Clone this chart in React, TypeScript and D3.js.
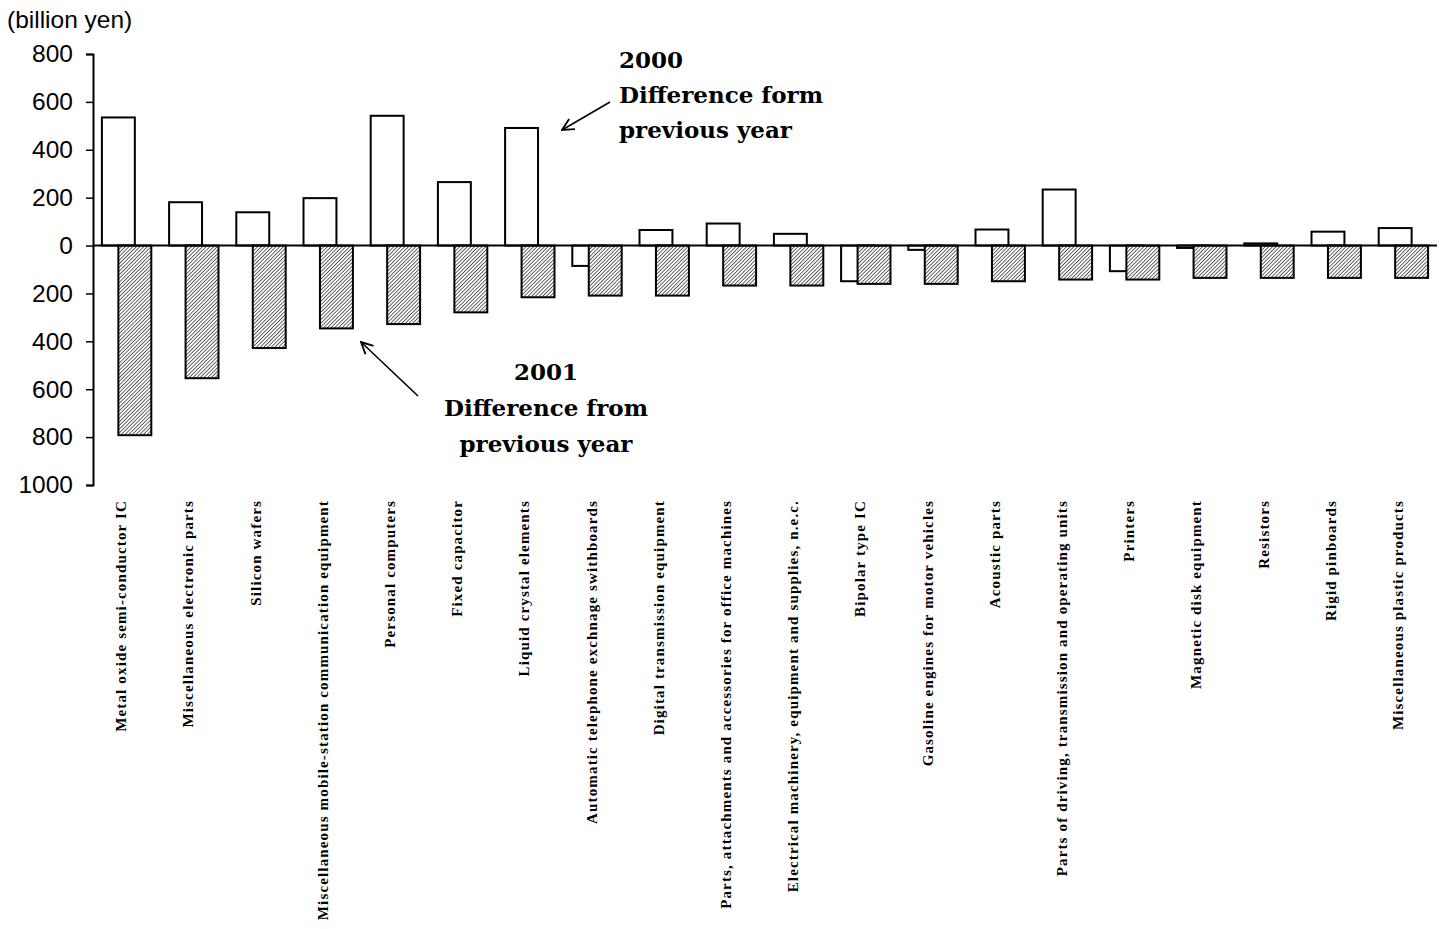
import React, { useEffect, useRef } from 'react';
import * as d3 from 'd3';

const categories = [
  'Metal oxide semi-conductor IC',
  'Miscellaneous electronic parts',
  'Silicon wafers',
  'Miscellaneous mobile-station communication equipment',
  'Personal computers',
  'Fixed capacitor',
  'Liquid crystal elements',
  'Automatic telephone exchnage swithboards',
  'Digital transmission equipment',
  'Parts, attachments and accessories for office machines',
  'Electrical machinery, equipment and supplies, n.e.c.',
  'Bipolar type IC',
  'Gasoline engines for motor vehicles',
  'Acoustic parts',
  'Parts of driving, transmission and operating units',
  'Printers',
  'Magnetic disk equipment',
  'Resistors',
  'Rigid pinboards',
  'Miscellaneous plastic products',
];

// 2000: difference from previous year (billion yen)
const diff2000 = [535, 181, 139, 198, 542, 265, 491, -85, 65, 92, 49, -149, -18, 67, 234, -107, -10, 9, 58, 73];
// 2001: difference from previous year (billion yen)
const diff2001 = [-792, -554, -428, -346, -328, -279, -216, -209, -209, -167, -167, -160, -160, -149, -142, -142, -135, -135, -135, -135];

const yTicks = [800, 600, 400, 200, 0, -200, -400, -600, -800, -1000];

const label2000 = ['2000', 'Difference form', 'previous year'];
const label2001 = ['2001', 'Difference from', 'previous year'];

const W = 1454;
const H = 929;

export default function App() {
  const ref = useRef<SVGSVGElement>(null);

  useEffect(() => {
    if (!ref.current) return;
    const svg = d3.select(ref.current);
    svg.selectAll('*').remove();

    const x = d3.scaleBand<string>().domain(categories).range([93, 1437]).paddingInner(0).paddingOuter(0);
    const y = d3.scaleLinear().domain([-1000, 800]).range([485, 54]);
    const bw = x.bandwidth() * 0.49;

    const defs = svg.append('defs');
    const pat = defs.append('pattern')
      .attr('id', 'hatch')
      .attr('patternUnits', 'userSpaceOnUse')
      .attr('width', 2.6)
      .attr('height', 2.6)
      .attr('patternTransform', 'rotate(45)');
    pat.append('rect').attr('width', 2.6).attr('height', 2.6).attr('fill', '#fff');
    pat.append('line').attr('x1', 0).attr('y1', 0).attr('x2', 0).attr('y2', 2.6)
      .attr('stroke', '#000').attr('stroke-width', 1.2);

    const marker = defs.append('marker')
      .attr('id', 'arr')
      .attr('viewBox', '0 0 12 12')
      .attr('refX', 11).attr('refY', 6)
      .attr('markerWidth', 14).attr('markerHeight', 14)
      .attr('markerUnits', 'userSpaceOnUse')
      .attr('orient', 'auto');
    marker.append('path').attr('d', 'M1,1 L11,6 L1,11').attr('fill', 'none').attr('stroke', '#000').attr('stroke-width', 1.6);

    // 2000 bars (white)
    svg.append('g')
      .selectAll('rect')
      .data(categories)
      .join('rect')
      .attr('x', d => x(d)! + x.bandwidth() / 2 - 0.75 * bw)
      .attr('width', bw)
      .attr('y', (d, i) => y(Math.max(0, diff2000[i])))
      .attr('height', (d, i) => Math.abs(y(diff2000[i]) - y(0)))
      .attr('fill', '#fff')
      .attr('stroke', '#000')
      .attr('stroke-width', 2);

    // 2001 bars (hatched)
    svg.append('g')
      .selectAll('rect')
      .data(categories)
      .join('rect')
      .attr('x', d => x(d)! + x.bandwidth() / 2 - 0.25 * bw)
      .attr('width', bw)
      .attr('y', (d, i) => y(Math.max(0, diff2001[i])))
      .attr('height', (d, i) => Math.abs(y(diff2001[i]) - y(0)))
      .attr('fill', 'url(#hatch)')
      .attr('stroke', '#000')
      .attr('stroke-width', 2);

    // zero line
    svg.append('line')
      .attr('x1', 93).attr('x2', 1437)
      .attr('y1', y(0)).attr('y2', y(0))
      .attr('stroke', '#000').attr('stroke-width', 2);

    // y axis
    const yAxis = svg.append('g')
      .attr('transform', 'translate(93,0)')
      .call(d3.axisLeft(y).tickValues(yTicks).tickFormat(d => String(Math.abs(+d))).tickSizeOuter(0).tickSize(7).tickPadding(13));
    yAxis.select('.domain').attr('stroke', '#000').attr('stroke-width', 2);
    yAxis.selectAll('.tick line').attr('stroke-width', 1.5);
    yAxis.selectAll('text')
      .attr('font-family', '"Liberation Sans", Arial, sans-serif')
      .attr('font-size', 24.5)
      .attr('fill', '#000');

    svg.append('text')
      .attr('x', 7).attr('y', 28)
      .attr('font-family', '"Liberation Sans", Arial, sans-serif')
      .attr('font-size', 24.5)
      .text('(billion yen)');

    // category labels
    svg.append('g')
      .selectAll('text')
      .data(categories)
      .join('text')
      .attr('transform', d => `translate(${x(d)! + x.bandwidth() / 2 + 4},500) rotate(-90)`)
      .attr('text-anchor', 'end')
      .attr('dy', '-0.3em')
      .attr('font-family', '"Liberation Serif", "Times New Roman", serif')
      .attr('font-weight', 'bold')
      .attr('font-size', 15)
      .attr('letter-spacing', 1.15)
      .text(d => d);

    // annotations
    const annFont = '"DejaVu Serif", Georgia, serif';
    svg.append('text')
      .attr('font-family', annFont).attr('font-weight', 'bold').attr('font-size', 23)
      .selectAll('tspan')
      .data(label2000)
      .join('tspan')
      .attr('x', 619)
      .attr('y', (d, i) => 68 + i * 35)
      .text(d => d);

    svg.append('text')
      .attr('font-family', annFont).attr('font-weight', 'bold').attr('font-size', 23)
      .attr('text-anchor', 'middle')
      .selectAll('tspan')
      .data(label2001)
      .join('tspan')
      .attr('x', 546)
      .attr('y', (d, i) => 380 + i * 36)
      .text(d => d);

    svg.append('line')
      .attr('x1', 610).attr('y1', 102).attr('x2', 562).attr('y2', 130)
      .attr('stroke', '#000').attr('stroke-width', 1.6)
      .attr('marker-end', 'url(#arr)');
    svg.append('line')
      .attr('x1', 418).attr('y1', 396).attr('x2', 361).attr('y2', 342)
      .attr('stroke', '#000').attr('stroke-width', 1.6)
      .attr('marker-end', 'url(#arr)');
  }, []);

  return (
    <svg
      ref={ref}
      width={W}
      height={H}
      style={{ position: 'absolute', left: 0, top: 0, background: '#fff' }}
    />
  );
}
